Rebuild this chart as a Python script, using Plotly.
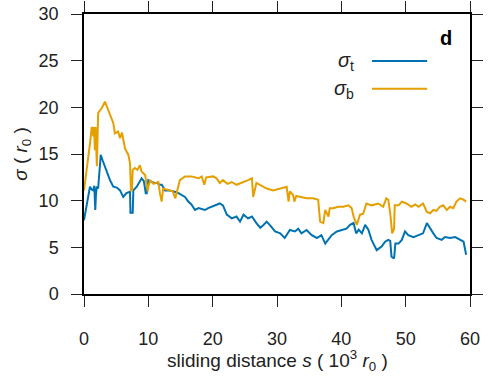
import plotly.graph_objects as go

# sliding distance s (10^3 r0) and sigma_t (r0)
s_t = [0.0, 0.4, 0.93, 1.2, 1.45, 1.6, 1.75, 1.85, 1.97, 2.2, 2.6, 2.9, 3.26, 3.6, 4.04, 4.56,
       5.1, 5.6, 6.1, 6.6, 7.15, 7.22, 7.57, 7.67, 8.2, 8.96, 9.3, 9.6, 9.75, 10.0, 10.5, 11.0,
       11.3, 11.8, 12.1, 12.6, 13.3, 14.1, 14.7, 15.7, 16.2, 16.7, 17.25, 17.8, 18.3, 18.8, 19.3,
       19.85, 20.6, 21.1, 21.6, 22.2, 22.96, 23.7, 24.25, 24.8, 25.5, 26.1, 26.8, 27.4, 27.9,
       28.4, 29.0, 29.7, 30.5, 31.2, 32.0, 32.8, 33.3, 33.8, 34.6, 35.4, 36.2, 36.9, 37.5, 38.0,
       38.5, 39.3, 40.0, 40.8, 41.35, 41.9, 42.3, 42.7, 43.2, 43.7, 44.2, 44.7, 45.5, 46.3, 46.8,
       47.3, 47.6, 47.8, 48.2, 48.4, 48.9, 49.4, 49.9, 50.4, 51.2, 52.0, 52.7, 53.3, 53.8, 54.3,
       54.8, 55.6, 56.1, 56.9, 57.7, 58.5, 59.0, 59.4]
sigma_t = [7.9, 9.5, 11.5, 11.2, 11.1, 11.6, 9.0, 10.5, 11.5, 11.3, 14.9, 14.3, 13.6, 13.0, 12.2, 11.5,
           11.4, 11.1, 10.4, 10.8, 10.96, 8.7, 8.7, 11.1, 11.5, 12.4, 12.1, 10.8, 10.8, 12.2, 12.0, 11.9,
           11.9, 11.7, 11.7, 11.1, 11.1, 10.96, 10.8, 10.4, 9.9, 9.6, 9.0, 9.2, 9.1, 9.0, 9.2,
           9.35, 9.5, 9.7, 9.5, 8.5, 8.1, 8.3, 7.75, 8.5, 8.1, 8.3, 7.6, 7.1, 7.4,
           7.75, 7.3, 6.7, 6.5, 6.0, 6.86, 6.7, 7.0, 6.5, 6.86, 6.3, 6.0, 6.3, 5.4, 5.8,
           6.3, 6.7, 6.86, 7.0, 7.4, 7.6, 6.5, 6.9, 6.5, 7.4, 6.9, 5.8, 4.7, 5.1, 5.6,
           5.8, 5.7, 4.0, 3.8, 5.4, 5.4, 5.8, 6.7, 6.3, 6.1, 6.3, 6.5, 7.6, 7.0, 6.5,
           6.0, 5.8, 6.1, 6.0, 6.1, 5.8, 5.6, 4.2]

# sliding distance s (10^3 r0) and sigma_b (r0)
s_b = [0.0, 0.67, 1.0, 1.2, 1.45, 1.55, 1.7, 1.8, 2.0, 2.2, 2.75, 3.26, 3.5, 4.04, 4.56, 4.8,
       5.3, 5.6, 5.9, 6.37, 6.9, 7.15, 7.3, 7.45, 7.57, 7.9, 8.3, 8.7, 8.96, 9.5, 9.9, 10.0,
       10.3, 10.8, 11.55, 11.8, 12.07, 12.3, 13.1, 13.8, 14.2, 14.5, 14.9, 15.7, 16.7, 17.8,
       18.3, 18.7, 19.0, 20.1, 20.6, 21.1, 21.6, 22.3, 22.96, 23.7, 24.5, 25.5, 26.1, 26.3,
       26.8, 27.4, 27.9, 28.4, 29.4, 30.5, 31.5, 31.8, 32.0, 32.5, 32.7, 33.0, 33.6, 34.6,
       35.6, 36.4, 36.7, 37.2, 37.5, 38.0, 38.2, 38.75, 39.5, 40.3, 41.1, 41.6, 41.9, 42.4,
       42.9, 43.4, 43.9, 44.7, 45.75, 46.5, 47.0, 47.3, 47.6, 47.9, 48.2, 48.3, 48.9, 49.4,
       50.1, 50.9, 51.5, 52.0, 52.7, 53.3, 53.8, 54.3, 54.8, 55.3, 55.85, 56.4, 56.9, 57.4,
       57.9, 58.45, 59.0, 59.4]
sigma_b = [11.1, 14.4, 16.5, 17.9, 16.9, 17.9, 15.4, 17.9, 13.7, 19.4, 19.9, 20.6, 20.2, 19.2, 18.3, 17.2,
           17.4, 16.7, 17.3, 15.6, 14.9, 14.0, 11.1, 11.1, 13.3, 13.5, 13.3, 13.8, 13.1, 12.75, 11.0, 11.5,
           12.2, 11.8, 12.0, 10.8, 9.9, 11.3, 11.1, 11.0, 10.25, 11.0, 12.2, 12.6, 12.6, 12.4,
           12.6, 11.7, 12.5, 12.6, 12.4, 11.9, 12.2, 11.8, 12.0, 11.7, 11.9, 12.2, 12.4, 10.4,
           11.9, 11.7, 11.5, 11.3, 11.1, 11.3, 11.5, 9.9, 11.0, 10.6, 9.9, 10.5, 10.4, 10.25,
           10.25, 10.1, 7.75, 7.6, 9.0, 8.3, 9.2, 9.2, 9.35, 9.35, 9.5, 9.2, 8.3, 7.4,
           8.5, 8.6, 9.7, 9.5, 9.7, 9.35, 10.25, 10.1, 8.65, 6.5, 7.0, 9.5, 9.5, 9.9,
           9.7, 9.35, 9.6, 9.35, 9.7, 8.8, 8.65, 9.0, 8.9, 9.35, 9.5, 9.0, 9.35, 9.2,
           9.9, 10.25, 10.1, 9.9]

blue = "#0072B2"
orange = "#E69F00"
font = "Liberation Sans, Arial, sans-serif"

fig = go.Figure()
fig.add_trace(go.Scatter(x=s_t, y=sigma_t, mode="lines", line=dict(color=blue, width=2),
                         showlegend=False))
fig.add_trace(go.Scatter(x=s_b, y=sigma_b, mode="lines", line=dict(color=orange, width=2),
                         showlegend=False))

axis_common = dict(showline=True, linecolor="black", linewidth=1.5, mirror="ticks",
                   ticks="outside", ticklen=11, tickwidth=1.4, tickcolor="#222",
                   showgrid=False, zeroline=False, automargin=False,
                   tickfont=dict(family=font, size=18, color="#222"))
fig.update_xaxes(range=[0, 60], dtick=10, tick0=0, ticklabelstandoff=17, **axis_common)
fig.update_yaxes(range=[0, 30], dtick=5, tick0=0, ticklabelstandoff=9, **axis_common)

fig.update_layout(
    width=492, height=381,
    margin=dict(l=84, r=22, t=14, b=87, autoexpand=False),
    plot_bgcolor="white", paper_bgcolor="white",
    font=dict(family=font, size=18, color="#222"),
    annotations=[
        dict(text="sliding distance <i>s</i> ( 10<sup>3</sup> <i>r</i><sub>0</sub> )",
             xref="paper", yref="paper", x=0.5, y=-0.239, xanchor="center", yanchor="middle",
             showarrow=False, font=dict(size=19)),
        dict(text="<i>σ</i> ( <i>r</i><sub>0</sub> )", textangle=-90,
             xref="paper", yref="paper", x=-0.161, y=0.5, xanchor="center", yanchor="middle",
             showarrow=False, font=dict(size=19)),
        dict(text="<i>σ</i><sub>t</sub>", xref="paper", yref="paper", x=0.705, y=0.83,
             xanchor="right", yanchor="middle", showarrow=False, font=dict(size=20)),
        dict(text="<i>σ</i><sub>b</sub>", xref="paper", yref="paper", x=0.705, y=0.731,
             xanchor="right", yanchor="middle", showarrow=False, font=dict(size=20)),
        dict(text="<b>d</b>", xref="paper", yref="paper", x=0.937, y=0.915,
             xanchor="center", yanchor="middle", showarrow=False, font=dict(size=20, color="black")),
    ],
    shapes=[
        dict(type="line", xref="paper", yref="paper", x0=0.746, x1=0.889, y0=0.832, y1=0.832,
             line=dict(color=blue, width=2)),
        dict(type="line", xref="paper", yref="paper", x0=0.746, x1=0.889, y0=0.733, y1=0.733,
             line=dict(color=orange, width=2)),
    ],
)

fig.write_html("out.html", config={"displayModeBar": False},
               post_script="document.body.style.margin='0';")
